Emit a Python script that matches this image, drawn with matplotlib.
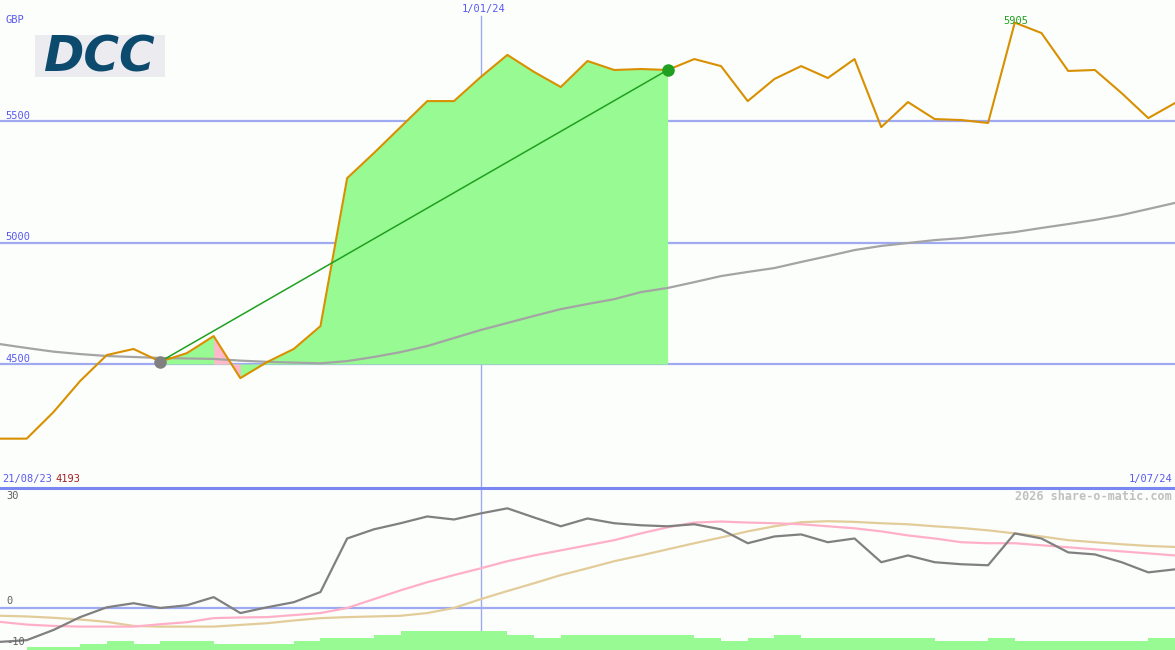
import numpy as np
import matplotlib.pyplot as plt
from matplotlib.lines import Line2D
from matplotlib.patches import Rectangle

# weekly closes, 21/08/23 .. 1/07/24 (GBP pence)
price = [4193, 4193, 4302, 4430, 4537, 4562, 4510, 4545, 4615, 4442,
         4508, 4562, 4656, 5265, 5368, 5475, 5582, 5582, 5681, 5772,
         5702, 5640, 5747, 5710, 5714, 5710, 5755, 5726, 5582, 5673,
         5726, 5677, 5755, 5475, 5578, 5508, 5504, 5492, 5905, 5862,
         5706, 5710, 5615, 5512, 5574]
moving_avg = [4582, 4566, 4551, 4541, 4533, 4529, 4525, 4523, 4521, 4514,
              4509, 4506, 4503, 4512, 4529, 4549, 4574, 4607, 4640, 4669,
              4698, 4726, 4747, 4767, 4796, 4813, 4837, 4862, 4879, 4895,
              4920, 4944, 4969, 4986, 4998, 5010, 5018, 5031, 5043, 5060,
              5076, 5093, 5113, 5138, 5163]
momentum = [-10.1, -9.6, -6.6, -2.8, 0.1, 1.3, -0.1, 0.7, 3.1, -1.6,
            0.1, 1.6, 4.6, 20.4, 23.1, 24.9, 26.9, 26.0, 27.8, 29.3,
            26.6, 24.0, 26.3, 24.9, 24.3, 24.0, 24.6, 23.1, 19.0, 21.0,
            21.6, 19.3, 20.4, 13.4, 15.4, 13.4, 12.8, 12.5, 21.9, 20.4,
            16.3, 15.7, 13.4, 10.4, 11.3]
signal_fast = [-4.2, -5.0, -5.4, -5.6, -5.6, -5.6, -4.9, -4.3, -3.1, -2.9,
               -2.8, -2.2, -1.6, -0.1, 2.5, 5.1, 7.5, 9.6, 11.6, 13.7,
               15.4, 16.9, 18.4, 19.9, 21.9, 23.7, 25.1, 25.4, 25.1, 24.9,
               24.6, 24.0, 23.4, 22.5, 21.3, 20.4, 19.3, 19.0, 19.0, 18.4,
               17.8, 17.2, 16.6, 16.0, 15.4]
signal_slow = [-2.4, -2.6, -3.0, -3.5, -4.2, -5.4, -5.6, -5.6, -5.6, -5.1,
               -4.6, -3.8, -3.1, -2.8, -2.6, -2.4, -1.6, -0.1, 2.5, 4.9,
               7.2, 9.6, 11.6, 13.7, 15.4, 17.2, 19.0, 20.7, 22.5, 24.0,
               25.2, 25.5, 25.3, 24.9, 24.6, 24.0, 23.5, 22.8, 21.9, 21.0,
               19.9, 19.3, 18.7, 18.2, 17.9]
volume = [0, 1, 1, 2, 3, 2, 3, 3, 2, 2, 2, 3, 4, 4, 5, 6, 6, 6, 6, 5,
          4, 5, 5, 5, 5, 5, 4, 3, 4, 5, 4, 4, 4, 4, 4, 3, 3, 4, 3, 3,
          3, 3, 3, 4]

start_idx, end_idx = 6, 25   # trade entry / exit weeks
fall_idx = 8                 # week with the pink (falling) segment
jan_idx = 18                 # position of the 1/01/24 marker
grid_levels = [4500, 5000, 5500]

W, H = 1175, 650
BG = '#fcfefc'
BLUE = '#5a5af0'
GRID = '#a0aaf0'
MONO = 'DejaVu Sans Mono'

fig = plt.figure(figsize=(W / 100, H / 100), dpi=100, facecolor=BG)


def px_axes(x0, y0, x1, y1):
    a = fig.add_axes([x0 / W, 1 - y1 / H, (x1 - x0) / W, (y1 - y0) / H])
    a.set_facecolor(BG)
    a.axis('off')
    return a


def ftext(x, y, s, **kw):
    kw.setdefault('family', MONO)
    kw.setdefault('fontsize', 7.5)
    kw.setdefault('va', 'center')
    fig.text(x / W, 1 - y / H, s, **kw)


weeks = np.arange(len(price))
n = len(price) - 1

# ---- price panel ----
ax = px_axes(0, 0, W, 487)
ax.set_xlim(0, n)
ax.set_ylim(3994, 5998)
for lvl in grid_levels:
    ax.axhline(lvl, color=GRID, lw=1.6, zorder=1)
ax.axvline(jan_idx, ymin=0, ymax=(487 - 16) / 487, color=GRID, lw=1, zorder=1)

p = np.array(price, dtype=float)
seg = slice(start_idx, end_idx + 1)
ax.fill_between(weeks[seg], p[seg], 4500, color='#98fa92', lw=0, zorder=2)
ax.fill_between(weeks[fall_idx:fall_idx + 2], p[fall_idx:fall_idx + 2], 4500,
                color='#ffb8cc', lw=0, zorder=2.5)

ax.plot(weeks, moving_avg, color='#a4a4a4', lw=1.6, zorder=3)
ax.plot(weeks, price, color='#d89000', lw=1.5, zorder=4)
ax.plot([start_idx, end_idx], [price[start_idx], price[end_idx]],
        color='#20a020', lw=1.1, zorder=5)
ax.plot(start_idx, price[start_idx], 'o', color='#808080', ms=8, zorder=6)
ax.plot(end_idx, price[end_idx], 'o', color='#20a020', ms=8, zorder=6)

# logo
fig.add_artist(Rectangle((35 / W, 1 - 77 / H), 130 / W, 42 / H,
                         transform=fig.transFigure, color='#ebebf0', lw=0))
ftext(100, 57, 'DCC', family='DejaVu Sans', fontsize=35, fontweight='heavy',
      style='italic', color='#0c4a6e', ha='center')

ftext(5, 20, 'GBP', color=BLUE)
for lvl in grid_levels:
    ypx = 364 - (lvl - 4500) / 4.115 - 5
    ftext(5, ypx, str(lvl), color=BLUE)
ftext(484, 9, '1/01/24', color=BLUE, ha='center')
ftext(1016, 21, str(max(price)), color='#20a020', ha='center')
ftext(2, 479, '21/08/23', color=BLUE)
ftext(55, 479, str(min(price)), color='#a02020')
ftext(1172, 479, '1/07/24', color=BLUE, ha='right')

fig.add_artist(Line2D([0, 1], [1 - 487.5 / H] * 2, transform=fig.transFigure,
                      color='#7888f0', lw=2.2))

# ---- indicator panel ----
ax2 = px_axes(0, 489, W, 650)
ax2.set_xlim(0, n)
ax2.set_ylim(-12.5, 35.0)
ax2.axhline(0, color=GRID, lw=1.6, zorder=1)
ax2.axvline(jan_idx, color=GRID, lw=1, zorder=1)
ax2.plot(weeks, signal_slow, color='#e2cc9a', lw=1.6, zorder=3)
ax2.plot(weeks, signal_fast, color='#ffb0c8', lw=1.6, zorder=3)
ax2.plot(weeks, momentum, color='#808080', lw=1.6, zorder=4)

ax3 = ax2.twinx()
ax3.axis('off')
ax3.set_xlim(0, n)
ax3.set_ylim(0, 52)
ax3.bar(weeks[:-1], volume, width=1.0, align='edge', color='#98fa92', lw=0,
        zorder=2)

ftext(6, 496, '30', color='#606060')
ftext(6, 601, '0', color='#606060')
ftext(6, 642, '-10', color='#606060')
ftext(1172, 496, '2026 share-o-matic.com', color='#c0c0c0', fontsize=8.5,
      fontweight='bold', ha='right')

fig.savefig('out.png', dpi=100, facecolor=BG)
